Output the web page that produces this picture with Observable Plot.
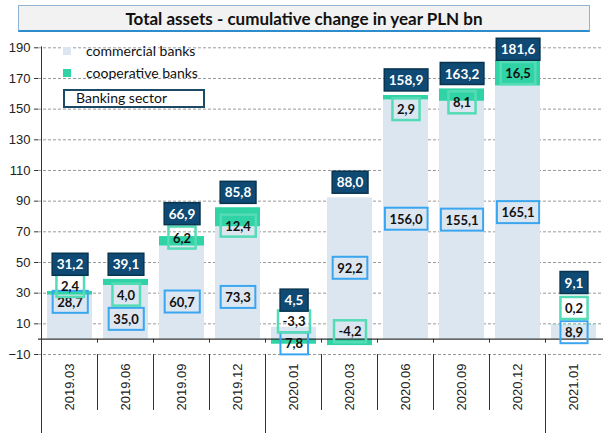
<!DOCTYPE html>
<html>
<head>
<meta charset="utf-8">
<script src="https://cdn.jsdelivr.net/npm/d3@7"></script>
<script src="https://cdn.jsdelivr.net/npm/@observablehq/plot@0.6"></script>
<style>
  body { margin: 0; background: #fff; }
  #wrap { position: relative; width: 603px; height: 433px; overflow: hidden; }
  #title {
    position: absolute; left: 18px; top: 5px; width: 570px; height: 24px;
    background: #f2f2f2; border: 1px solid #8fb3d1; border-bottom: 2px solid #2d8ccc;
    font-family: Lato, sans-serif; font-weight: bold; font-size: 17px;
    display: flex; align-items: center; justify-content: center; color: #111; z-index: 2;
  }
  #chart { position: absolute; left: 0; top: 0; }
</style>
</head>
<body>
<div id="wrap">
  <div id="title">Total assets - cumulative change in year PLN bn</div>
  <div id="chart"></div>
</div>
<script>
// ---- data ----
const categories = ["2019.03","2019.06","2019.09","2019.12","2020.01","2020.03","2020.06","2020.09","2020.12","2021.01"];
const commercial = [28.7, 35.0, 60.7, 73.3, 7.8, 92.2, 156.0, 155.1, 165.1, 8.9];
const cooperative = [2.4, 4.0, 6.2, 12.4, -3.3, -4.2, 2.9, 8.1, 16.5, 0.2];
const bankingSector = [31.2, 39.1, 66.9, 85.8, 4.5, 88.0, 158.9, 163.2, 181.6, 9.1];
const yTicks = [-10, 10, 30, 50, 70, 90, 110, 130, 150, 170, 190];
const seriesNames = ["commercial banks", "cooperative banks", "Banking sector"];

// label anchors (value units) as placed in the original
const commercialLabelAt = [23.8, 12.7, 24, 27, -3.3, 46, 78, 77.4, 82.3, 4];
const coopLabelAt = [34.2, 28.5, 65.7, 73.5, 11, 4.6, 149.5, 153.9, 173, 19.8];
const totalLabelAt = [48.4, 48.4, 81.4, 95.3, 25, 101.9, 168.6, 172.8, 188.6, 36.5];

// ---- build tables ----
const fmt = v => d3.format(".1f")(v).replace(".", ",").replace("\u2212", "-");
const stacked = [];
categories.forEach((c, i) => {
  stacked.push({cat: c, series: seriesNames[0], value: commercial[i]});
  stacked.push({cat: c, series: seriesNames[1], value: cooperative[i]});
});
const lblC = categories.map((c, i) => ({cat: c, at: commercialLabelAt[i], text: fmt(commercial[i])}));
const lblK = categories.map((c, i) => ({cat: c, at: coopLabelAt[i], text: fmt(cooperative[i])}));
const lblT = categories.map((c, i) => ({cat: c, at: totalLabelAt[i], text: fmt(bankingSector[i])}));

const COL_COM = "#dce6f1", COL_COOP = "#2fd3a5";

const chart = Plot.plot({
  width: 603,
  height: 433,
  marginLeft: 38,
  marginRight: 0,
  marginTop: 47.3,
  marginBottom: 79,
  style: {fontFamily: "Lato, sans-serif", background: "transparent"},
  x: {domain: categories, range: [38, 606], paddingInner: 0.19, paddingOuter: 0.095, align: 0.5},
  y: {domain: [-10, 190]},
  color: {domain: seriesNames.slice(0, 2), range: [COL_COM, COL_COOP]},
  marks: [
    Plot.gridY(yTicks, {stroke: "#9a9a9a", strokeOpacity: 1, strokeDasharray: "3,2"}),
    Plot.barY(stacked, Plot.stackY({x: "cat", y: "value", fill: "series", order: null})),
    Plot.ruleY([0], {stroke: "#333", strokeWidth: 1.2}),
    Plot.axisY(yTicks, {tickSize: 4, tickPadding: 4, fontSize: 13, fontFamily: "Liberation Sans", fill: "#222", stroke: "#333", label: null}),
    Plot.axisX({tickSize: 0, tickPadding: 9, tickRotate: -90, fontSize: 13, fontFamily: "Liberation Sans", fill: "#222", label: null}),
    Plot.text(lblC, {x: "cat", y: "at", text: "text", fontWeight: "bold", fontSize: 13, fill: "#111", ariaLabel: "lbl-commercial"}),
    Plot.text(lblK, {x: "cat", y: "at", text: "text", fontWeight: "bold", fontSize: 13, fill: "#111", ariaLabel: "lbl-coop"}),
    Plot.text(lblT, {x: "cat", y: "at", text: "text", fontWeight: "bold", fontSize: 13.5, fill: "#fff", ariaLabel: "lbl-total"})
  ]
});
document.getElementById("chart").append(chart);

// ---- boxes behind labels ----
function boxes(name, idx, fill, stroke, sw) {
  let g = chart.querySelector(`g[aria-label="${name}"]`);
  if (!g) g = chart.querySelectorAll('g[aria-label="text"]')[idx];
  if (!g) return;
  g.querySelectorAll("text").forEach(t => {
    const bb = t.getBBox();
    const r = document.createElementNS("http://www.w3.org/2000/svg", "rect");
    const cy = bb.y + bb.height / 2;
    r.setAttribute("x", bb.x - 4.5);
    r.setAttribute("y", cy - 11);
    r.setAttribute("width", bb.width + 9);
    r.setAttribute("height", 22);
    r.setAttribute("fill", fill);
    r.setAttribute("stroke", stroke);
    r.setAttribute("stroke-width", sw);
    if (t.getAttribute("transform")) r.setAttribute("transform", t.getAttribute("transform"));
    t.parentNode.insertBefore(r, t);
  });
}
boxes("lbl-commercial", 0, "none", "#3aa6ef", 2);
boxes("lbl-coop", 1, "none", "#55dcb6", 2.5);
boxes("lbl-total", 2, "#0e4a73", "#093450", 1.5);

// ---- category table lines and axis line (from the x/y scales) ----
const xs = chart.scale("x"), ys = chart.scale("y");
const svg = d3.select(chart);
const y0 = ys.apply(0), yBot = ys.apply(-10);
const edge = i => xs.apply(categories[0]) + xs.bandwidth / 2 - xs.step / 2 + i * xs.step;
const lines = svg.append("g").attr("stroke", "#333").attr("stroke-width", 1);
lines.append("line").attr("x1", edge(0)).attr("x2", edge(0)).attr("y1", ys.apply(190) - 1).attr("y2", 433);
for (let i = 1; i < categories.length; i++) {
  const x = edge(i);
  const yearBreak = categories[i].slice(0, 4) !== categories[i - 1].slice(0, 4);
  lines.append("line").attr("x1", x).attr("x2", x).attr("y1", y0).attr("y2", y0 + 4);
  lines.append("line").attr("x1", x).attr("x2", x).attr("y1", yBot).attr("y2", yearBreak ? 433 : 410);
}

// ---- legend ----
const lg = svg.append("g").attr("font-family", "Lato, sans-serif").attr("font-size", 14)
  .attr("fill", "#111").attr("text-anchor", "start");
lg.append("rect").attr("x", 63).attr("y", 47).attr("width", 8).attr("height", 8).attr("fill", COL_COM);
lg.append("text").attr("x", 86).attr("y", 51).attr("dy", "0.35em").text(seriesNames[0]);
lg.append("rect").attr("x", 63).attr("y", 69).attr("width", 8).attr("height", 8).attr("fill", COL_COOP);
lg.append("text").attr("x", 86).attr("y", 73).attr("dy", "0.35em").text(seriesNames[1]);
lg.append("rect").attr("x", 64).attr("y", 90).attr("width", 140).attr("height", 17).attr("fill", "#fff").attr("stroke", "#1b4a66").attr("stroke-width", 2);
lg.append("text").attr("x", 76).attr("y", 98.5).attr("dy", "0.35em").text(seriesNames[2]);
</script>
</body>
</html>
